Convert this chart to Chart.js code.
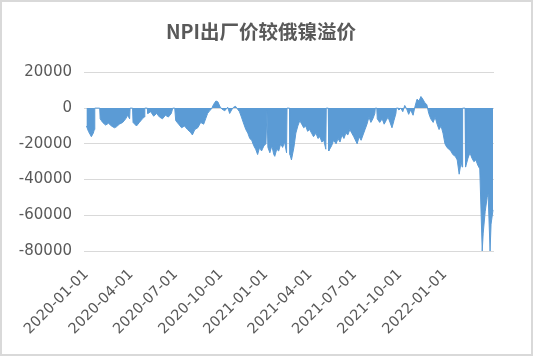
<!DOCTYPE html>
<html>
<head>
<meta charset="utf-8">
<script src="https://cdn.jsdelivr.net/npm/chart.js@4/dist/chart.umd.min.js"></script>
<style>
html,body{margin:0;padding:0;background:#fff;}
#wrap{width:533px;height:356px;}
</style>
</head>
<body>
<div id="wrap"><canvas id="c" width="533" height="356"></canvas></div>
<script>
// Chart title
const chartTitle = 'NPI出厂价较俄镍溢价';
// x positions: days since 2020-01-01
const daysSince20200101 = [
0,4,8,10,14,16,17,27,28,33,39,45,51,57,61,67,74,80,84,88,89,94,95,102,108,114,118,119,124,125,
131,137,143,149,155,161,167,173,176,180,182,188,194,200,206,212,216,221,227,233,239,243,247,251,255,259,264,268,272,276,
282,288,292,296,300,304,308,312,316,321,325,329,333,337,341,345,349,353,357,362,366,368,370,374,378,382,384,388,392,396,
400,404,408,409,414,415,418,423,427,431,435,439,443,447,451,455,459,463,468,472,476,480,484,488,489,493,494,500,504,509,
513,517,521,525,529,533,537,541,545,552,556,560,564,568,572,576,580,584,588,589,592,593,598,603,607,611,615,619,623,627,
631,632,636,637,641,645,649,653,657,661,666,670,674,678,682,686,690,694,698,702,707,711,715,719,723,727,731,735,739,743,
747,752,756,760,764,766,767,772,773,778,782,786,790,794,798,802,807,809,813,817,819,823,825,829
];
// NPI premium over Russian nickel (yuan/t)
const premium = [
-10000,-13000,-15000,-16000,-14000,-12000,0,0,-6000,-8000,-9500,-8500,-10000,-11000,-10500,-9000,-8000,-6000,-4000,-6000,0,0,-8000,-10000,-8000,-6000,-5000,0,0,-3000,
-2000,-4500,-3000,-5000,-6000,-4000,-5000,-3000,0,0,-7000,-9000,-11000,-10000,-12000,-13500,-15000,-12000,-11000,-8000,-9000,-6000,-3000,-1500,-500,2000,4000,3500,1000,-500,
-1500,500,-3000,-1000,500,1000,-500,-2000,-5000,-9000,-12000,-14000,-17000,-18000,-21000,-23000,-26000,-22000,-24000,-21000,-20000,-1500,-22000,-25000,-21000,-26000,-27000,-23000,-24000,-20000,
-22000,-19000,-25000,0,0,-26000,-29000,-22000,-14000,-10000,-7000,-9000,-11000,-10000,-13000,-12000,-14000,-16000,-14000,-17000,-16000,-19000,-18000,-23000,0,0,-24000,-21000,-18000,-20000,
-17000,-19000,-15000,-17000,-14000,-15000,-12000,-14000,-16000,-20000,-16000,-18000,-15000,-12000,-9000,-5000,-8000,-6000,-3000,0,0,-6000,-8000,-6000,-9000,-7000,-5000,-8000,-11000,-7000,
-3000,0,0,-1000,0,-2000,1500,-500,-3500,-1000,-4000,1000,5000,4000,6500,5000,3000,2000,-3000,-6000,-8000,-5000,-9000,-12000,-10000,-14000,-20000,-22000,-23000,-24000,
-26000,-27000,-29000,-37000,-30000,-33000,0,0,-33000,-28000,-25000,-28000,-30000,-29000,-32000,-34000,-80000,-70000,-58000,-50000,-48000,-80000,-65000,-57000
];
// x-axis tick labels
const tickLabels = ['2020-01-01','2020-04-01','2020-07-01','2020-10-01','2021-01-01','2021-04-01','2021-07-01','2021-10-01','2022-01-01'];
// y-axis range
const yMin = -80000, yMax = 20000, yStep = 20000;

const base = Date.UTC(2020,0,1);
const tickDays = tickLabels.map(s => {
  const p = s.split('-').map(Number);
  return Math.round((Date.UTC(p[0], p[1]-1, p[2]) - base) / 86400000);
});
const points = daysSince20200101.map((d, i) => ({x: d, y: premium[i]}));

const framePlugin = {
  id: 'frame',
  afterLayout(chart) {
    const t = chart.titleBlock;
    if (t) { t.left = 28; t.right = 494; t.width = 466; }
  },
  beforeDraw(chart) {
    const ctx = chart.ctx;
    ctx.save();
    ctx.fillStyle = '#ffffff';
    ctx.fillRect(0, 0, chart.width, chart.height);
    ctx.restore();
  },
  afterDraw(chart) {
    const ctx = chart.ctx;
    ctx.save();
    ctx.strokeStyle = '#d9d9d9';
    ctx.lineWidth = 2;
    ctx.strokeRect(1, 1, chart.width - 2, chart.height - 2);
    ctx.restore();
  }
};

const axisFont = '"DejaVu Sans", Verdana, sans-serif';

new Chart(document.getElementById('c'), {
  type: 'line',
  data: {
    datasets: [{
      data: points,
      fill: 'origin',
      backgroundColor: '#5b9bd5',
      borderColor: '#5b9bd5',
      borderWidth: 1,
      pointRadius: 0,
      tension: 0
    }]
  },
  options: {
    responsive: false,
    animation: false,
    layout: {padding: {left: 0, right: 39, top: 0, bottom: 0}},
    plugins: {
      legend: {display: false},
      tooltip: {enabled: false},
      title: {
        display: true,
        text: chartTitle,
        color: '#595959',
        font: {family: '"Noto Sans CJK SC", "Noto Sans", sans-serif', size: 19.5, weight: 'bold'},
        padding: {top: 20, bottom: 29}
      }
    },
    scales: {
      x: {
        type: 'linear',
        min: -5,
        max: 831,
        grid: {display: false, drawTicks: false},
        border: {display: false},
        afterBuildTicks(scale) { scale.ticks = tickDays.map(v => ({value: v})); },
        afterFit(scale) { scale.height = 105; },
        ticks: {
          autoSkip: false,
          minRotation: 45,
          maxRotation: 45,
          padding: 15,
          color: '#595959',
          font: {family: axisFont, size: 14.5},
          callback(v) { const i = tickDays.indexOf(v); return i >= 0 ? tickLabels[i] : ''; }
        }
      },
      y: {
        min: yMin,
        max: yMax,
        grid: {color: '#d9d9d9', lineWidth: 1, drawTicks: false},
        border: {display: false},
        afterFit(scale) { scale.width = 84; },
        ticks: {
          stepSize: yStep,
          padding: 12,
          color: '#595959',
          font: {family: axisFont, size: 15},
          callback(v) { return String(v); }
        }
      }
    }
  },
  plugins: [framePlugin]
});
</script>
</body>
</html>
